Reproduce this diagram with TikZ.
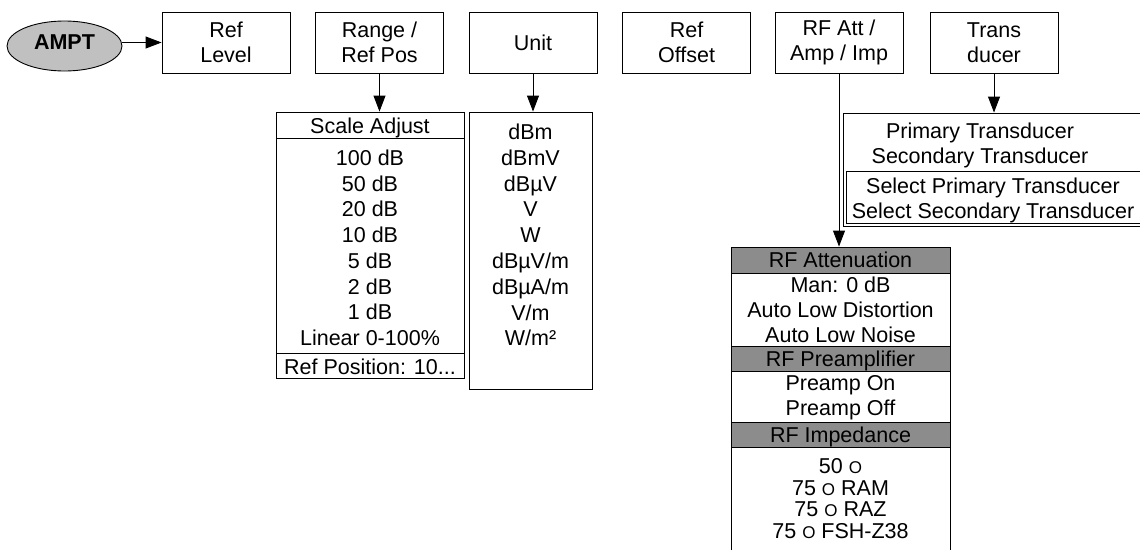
\documentclass[tikz,border=0pt]{standalone}
\usepackage{fontspec}
\setmainfont{Liberation Sans}
\usetikzlibrary{arrows.meta,shapes.geometric}
\definecolor{hdrgray}{RGB}{140,140,140}
\definecolor{ellgray}{RGB}{192,192,192}
\newcommand\ohmo{{\fontsize{17}{17}\selectfont O}}
\begin{document}
\begin{tikzpicture}[x=1pt,y=-1pt,
  font=\fontsize{21.5}{25.5}\selectfont,
  line width=0.9pt,
  topbox/.style={draw, minimum width=128pt, minimum height=61pt, align=center, inner sep=0pt},
  listbox/.style={draw, inner sep=0pt},
  hdrbox/.style={draw, fill=hdrgray, inner sep=0pt},
  txt/.style={inner sep=0pt, anchor=base},
  arr/.style={-{Triangle[length=16pt,width=12pt]}}]
\useasboundingbox (0,0) rectangle (1140,549);
\clip (0,0) rectangle (1140,549);

% top row
\node[draw, ellipse, fill=ellgray, minimum width=115pt, minimum height=50pt, inner sep=0pt,
      text height=15.4pt, text depth=8pt,
      font=\fontsize{21.5}{25.5}\selectfont\bfseries] (ampt) at (64.5,46) {AMPT};
\node[topbox] (rl) at (226,42.5) {Ref\\Level};
\node[topbox] (rp) at (379.5,42.5) {Range /\\Ref Pos};
\node[topbox] (un) at (533,42.5) {Unit};
\node[topbox] (ro) at (686.5,42.5) {Ref\\Offset};
\node[topbox] (rf) at (839,42.5) {RF Att /\\Amp / Imp};
\node[topbox] (tr) at (994,42.5) {Trans\\ducer};

\draw[arr] (ampt.east |- rl.west) -- (rl.west);

% Scale adjust list
\node[listbox, minimum width=188pt, minimum height=266pt] (sc) at (370,245) {};
\draw (276,138) -- (464,138);
\draw (276,353) -- (464,353);
\node[txt] (sch) at (370,133) {Scale Adjust};
\foreach \t [count=\i from 0] in {100 dB,50 dB,20 dB,10 dB,5 dB,2 dB,1 dB,Linear 0-100\%}
  \node[txt] (sc\i) at (370,165.5+25.7*\i) {\t};
\node[txt] (scr) at (370,374) {Ref Position: 10...};
\draw[arr] (rp.south) -- (rp.south |- sc.north);

% Unit list
\node[listbox, minimum width=123pt, minimum height=277pt] (ul) at (530.5,250.5) {};
\foreach \t [count=\i from 0] in {dBm,dBmV,dBµV,V,W,dBµV/m,dBµA/m,V/m,W/m²}
  \node[txt] (ul\i) at (530.5,139.5+25.8*\i) {\t};
\draw[arr] (un.south) -- (un.south |- ul.north);

% Transducer list
\node[listbox, minimum width=330pt, minimum height=113pt] (tl) at (1008,169.5) {};
\draw (846,171) -- (1160,171);
\draw (846,171) -- (846,223) -- (1160,223);
\node[txt] (tl1) at (980,138) {Primary Transducer};
\node[txt] (tl2) at (980,163) {Secondary Transducer};
\node[txt] (tl3) at (993,193) {Select Primary Transducer};
\node[txt] (tl4) at (993,218) {Select Secondary Transducer};
\draw[arr] (tr.south) -- (tr.south |- tl.north);

% RF list
\node[listbox, minimum width=219pt, minimum height=330pt] (rl2) at (840.5,412) {};
\node[hdrbox, minimum width=219pt, minimum height=26pt] (h1) at (840.5,260) {};
\node[hdrbox, minimum width=219pt, minimum height=25pt] (h2) at (840.5,358.5) {};
\node[hdrbox, minimum width=219pt, minimum height=25pt] (h3) at (840.5,434.5) {};
\node[txt] at (840.5,267.7) {RF Attenuation};
\node[txt] at (840.5,292.7) {Man: 0 dB};
\node[txt] at (840.5,317.7) {Auto Low Distortion};
\node[txt] at (840.5,342.7) {Auto Low Noise};
\node[txt] at (840.5,366.2) {RF Preamplifier};
\node[txt] at (840.5,390.7) {Preamp On};
\node[txt] at (840.5,415.7) {Preamp Off};
\node[txt] at (840.5,442.2) {RF Impedance};
\node[txt] at (840.5,473.7) {50 \ohmo};
\node[txt] at (840.5,495.2) {75 \ohmo\ RAM};
\node[txt] at (840.5,516.7) {75 \ohmo\ RAZ};
\node[txt] at (840.5,538.2) {75 \ohmo\ FSH-Z38};
\draw[arr] (rf.south) -- (rf.south |- h1.north);
\end{tikzpicture}
\end{document}
